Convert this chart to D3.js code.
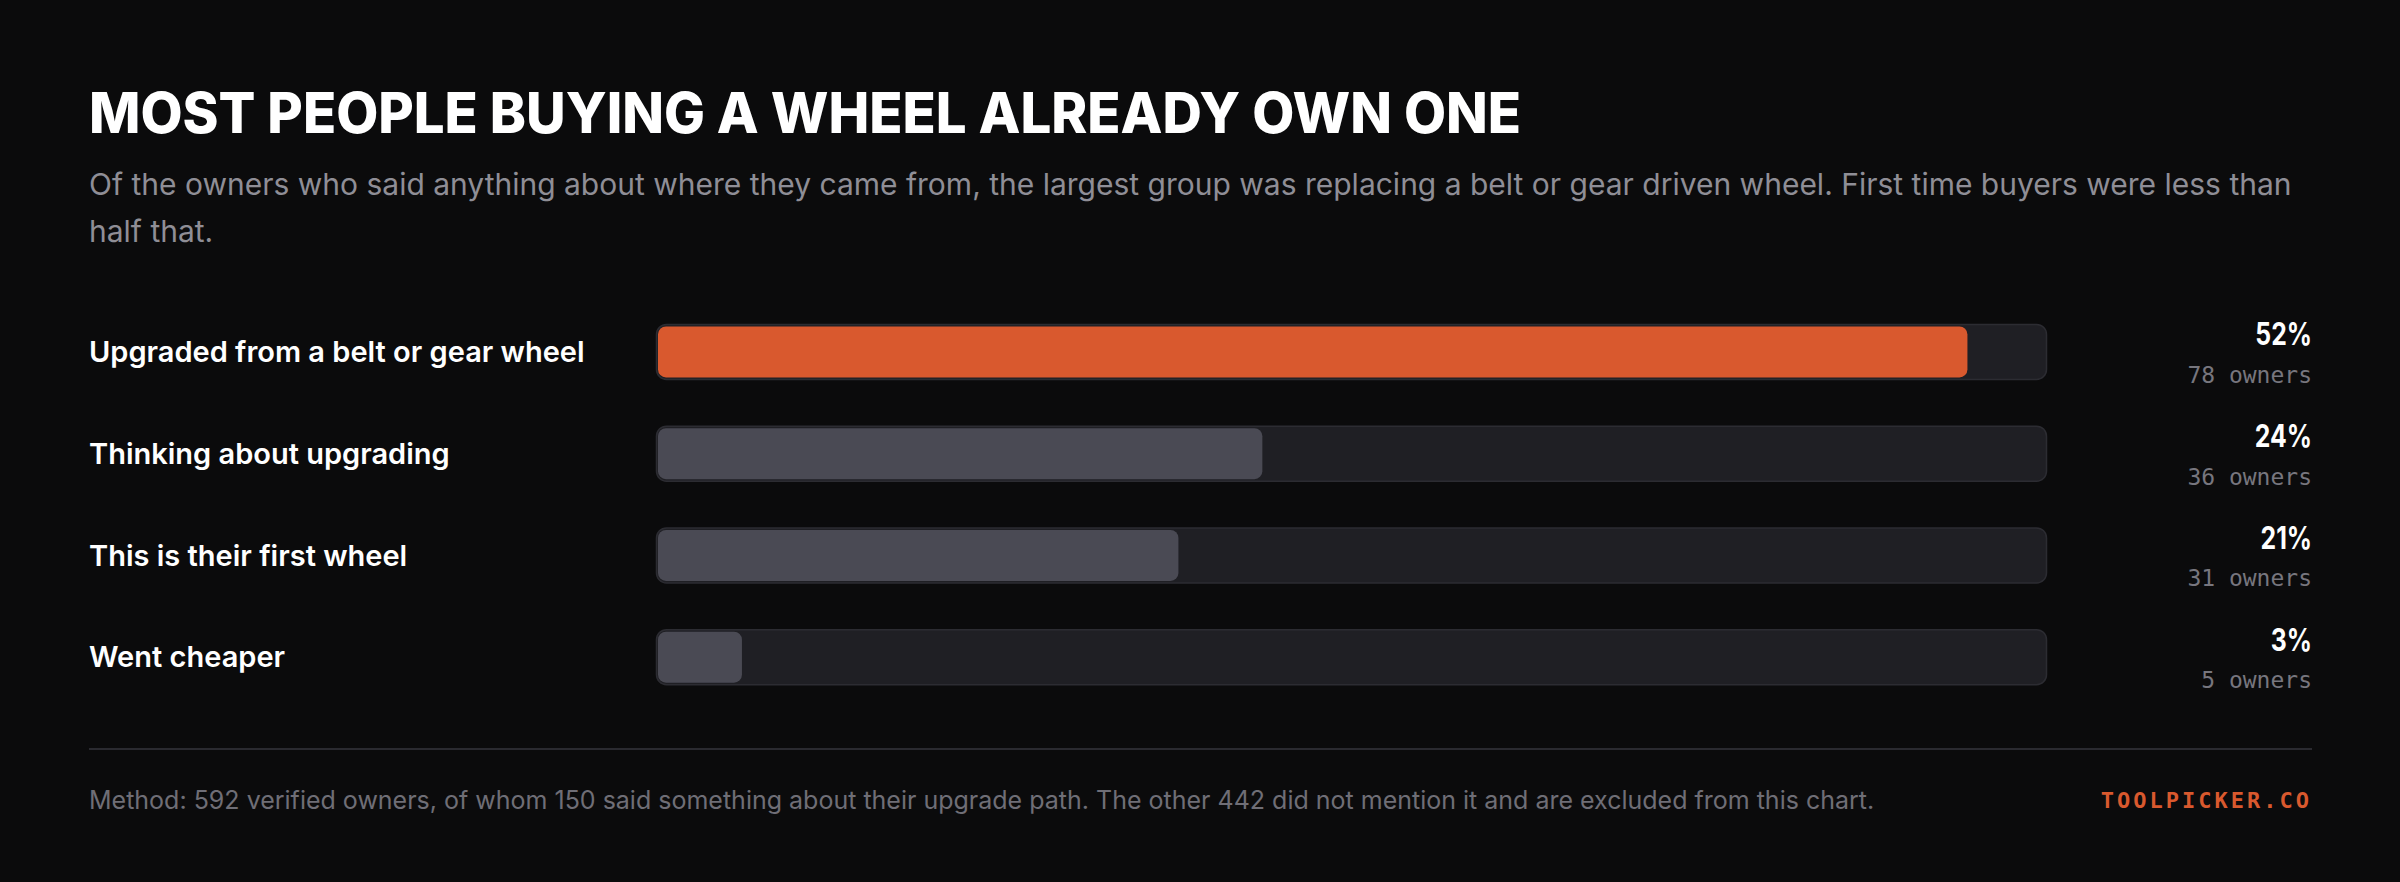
<!DOCTYPE html>
<html><head><meta charset="utf-8">
<script src="https://cdn.jsdelivr.net/npm/d3@7/dist/d3.min.js"></script>
<style>
html,body{margin:0;padding:0;background:#0b0b0c;}
svg{display:block;}
</style></head>
<body>
<svg id="chart" width="2400" height="882"></svg>
<script>
const categories = ["Upgraded from a belt or gear wheel","Thinking about upgrading","This is their first wheel","Went cheaper"];
const owners = [78, 36, 31, 5];
const percents = ["52%","24%","21%","3%"];
const highlight = [true, false, false, false];
const titleText = "MOST PEOPLE BUYING A WHEEL ALREADY OWN ONE";
const subtitleLines = ["Of the owners who said anything about where they came from, the largest group was replacing a belt or gear driven wheel. First time buyers were less than","half that."];
const footerText = "Method: 592 verified owners, of whom 150 said something about their upgrade path. The other 442 did not mention it and are excluded from this chart.";
const brandText = "TOOLPICKER.CO";

const svg = d3.select("#chart");
svg.append("rect").attr("width",2400).attr("height",882).attr("fill","#0b0b0c");

const sans = "Inter, 'Noto Sans', sans-serif";
const mono = "'DejaVu Sans Mono', 'Liberation Mono', monospace";

svg.append("text").attr("x",89).attr("y",133)
  .attr("font-family",sans).attr("font-weight",800).attr("font-size",56)
  .attr("fill","#ffffff").attr("textLength",1432).attr("lengthAdjust","spacingAndGlyphs")
  .text(titleText);

subtitleLines.forEach((t,i)=>{
  svg.append("text").attr("x",89).attr("y",195+i*47)
    .attr("font-family",sans).attr("font-size",30).attr("fill","#8f8e96")
    .text(t);
});

const trackX0 = 656.5, trackX1 = 2046.5;
const x = d3.scaleLinear().domain([0, d3.max(owners)*1.06]).range([0, trackX1-trackX0-2]);
const y = d3.scaleBand().domain(categories).range([301, 708]).padding(0);

const rows = svg.append("g").selectAll("g").data(categories).join("g")
  .attr("transform", d => `translate(0,${y(d)+y.bandwidth()/2})`);

rows.append("text").attr("x",89).attr("y",0).attr("dy","0.35em")
  .attr("font-family",sans).attr("font-weight",600).attr("font-size",29).attr("fill","#ffffff")
  .text(d=>d);

rows.append("rect").attr("x",trackX0).attr("y",-27.5).attr("width",trackX1-trackX0).attr("height",55)
  .attr("rx",10).attr("fill","#1f1f24").attr("stroke","#2c2c32").attr("stroke-width",1.5);

rows.append("rect").attr("x",trackX0+1.5).attr("y",-25.5)
  .attr("width",(d,i)=>x(owners[i])).attr("height",51).attr("rx",8)
  .attr("fill",(d,i)=>highlight[i] ? "#d9592e" : "#4a4a54");

rows.append("text").attr("transform","translate(2312,-6.5) scale(0.8,1)").attr("text-anchor","end")
  .attr("font-family",sans).attr("font-weight",700).attr("font-size",31).attr("fill","#ffffff")
  .text((d,i)=>percents[i]);

rows.append("text").attr("x",2312).attr("y",31).attr("text-anchor","end")
  .attr("font-family",mono).attr("font-size",23).attr("fill","#77767e")
  .text((d,i)=>`${owners[i]} owners`);

svg.append("line").attr("x1",89).attr("x2",2312).attr("y1",749).attr("y2",749)
  .attr("stroke","#2a2a30").attr("stroke-width",2);

svg.append("text").attr("x",89).attr("y",809)
  .attr("font-family",sans).attr("font-size",25).attr("fill","#6f6e76")
  .text(footerText);

svg.append("text").attr("x",2312).attr("y",808).attr("text-anchor","end")
  .attr("font-family",mono).attr("font-weight",700).attr("font-size",22)
  .attr("letter-spacing",3).attr("fill","#d9592e")
  .text(brandText);
</script>
</body></html>
